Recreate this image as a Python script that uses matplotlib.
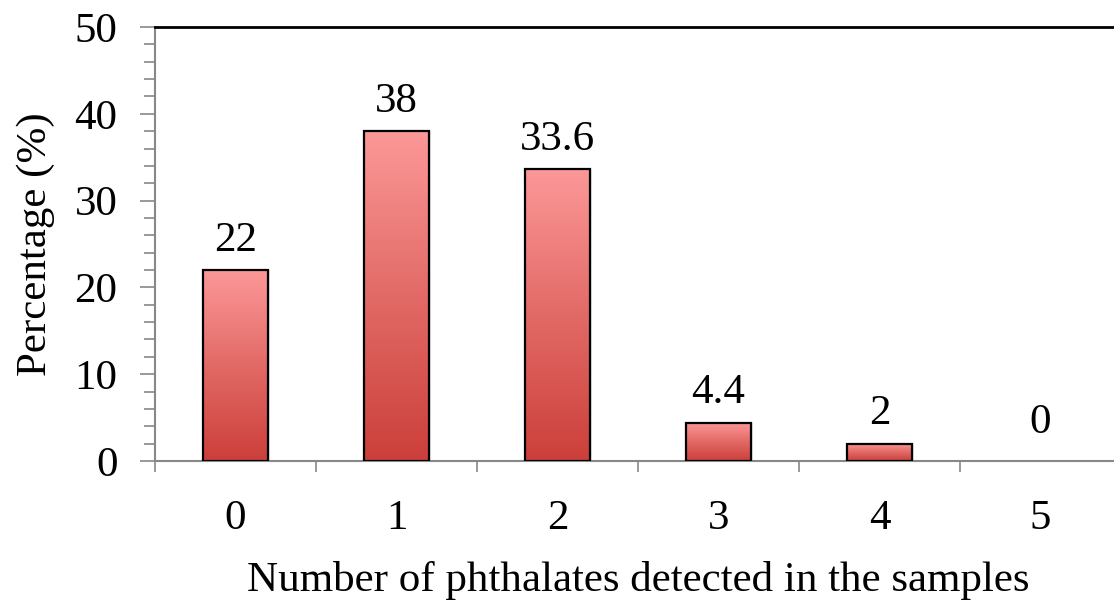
import numpy as np
import matplotlib
matplotlib.use("Agg")
import matplotlib.pyplot as plt
from matplotlib.colors import LinearSegmentedColormap
from matplotlib.ticker import MultipleLocator

categories = ["0", "1", "2", "3", "4", "5"]
values = [22, 38, 33.6, 4.4, 2, 0]
value_labels = ["22", "38", "33.6", "4.4", "2", "0"]

plt.rcParams['font.family'] = ['Liberation Serif', 'DejaVu Serif']
FS = 31

fig = plt.figure(figsize=(11.14, 6), dpi=100)
ax = fig.add_axes([155/1114, 1-461/600, 966/1114, (461-27)/600])

x = np.arange(len(categories))
width = 0.40
cmap = LinearSegmentedColormap.from_list("g", ["#CC3F3A", "#E26A66", "#FC9898"])
grad = np.linspace(0, 1, 256).reshape(-1, 1)

edgecols = ['black' if v > 0 else 'none' for v in values]
bars = ax.bar(x, values, width=width, facecolor='none', edgecolor=edgecols, linewidth=1.6, zorder=3)
for b, v in zip(bars, values):
    if v <= 0:
        continue
    x0 = b.get_x()
    ax.imshow(grad, cmap=cmap, origin='lower', aspect='auto',
              extent=[x0, x0 + b.get_width(), 0, v], zorder=2)
    ax.add_patch(plt.Rectangle((x0 + 0.012, 0), b.get_width(), v, facecolor='#00000018',
                               edgecolor='none', zorder=1))

for xi, v, lab in zip(x, values, value_labels):
    ax.annotate(lab, (xi, v), xytext=(0, 14 if v > 0 else 20), textcoords='offset points',
                ha='center', va='baseline', fontsize=FS)

ax.set_xlim(-0.5, 5.5)
ax.set_ylim(0, 50)

ax.set_xticks(x)
ax.set_xticklabels(categories, fontsize=FS)
ax.set_xticks(np.arange(-0.5, 5.6, 1), minor=True)
ax.tick_params(axis='x', which='major', length=0, pad=28)
ax.tick_params(axis='x', which='minor', length=8, width=1.2, color='#888888', direction='out')

ax.yaxis.set_major_locator(MultipleLocator(10))
ax.yaxis.set_minor_locator(MultipleLocator(2))
ax.tick_params(axis='y', which='major', length=11, width=1.2, color='#888888', pad=16, labelsize=FS)
ax.tick_params(axis='y', which='minor', length=8, width=1.2, color='#888888')

for s in ['left', 'bottom']:
    ax.spines[s].set_color('#888888')
    ax.spines[s].set_linewidth(1.5)
ax.spines['top'].set_color('black')
ax.spines['top'].set_linewidth(2)
ax.spines['right'].set_visible(False)

ax.set_xlabel("Number of phthalates detected in the samples", fontsize=FS, labelpad=16)
ax.set_ylabel("Percentage (%)", fontsize=FS, labelpad=14)

fig.savefig("out.png", dpi=100)
